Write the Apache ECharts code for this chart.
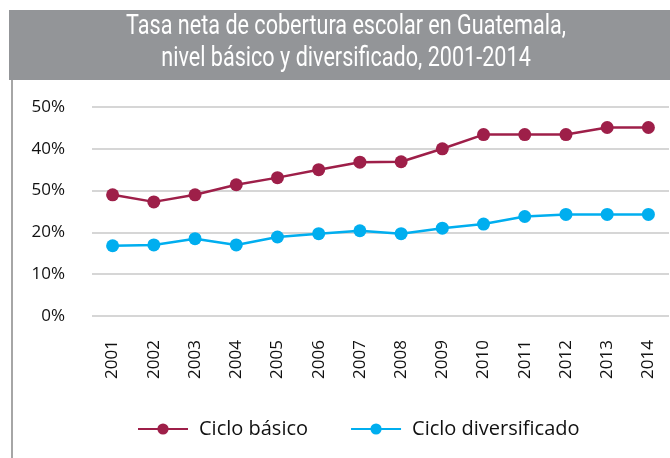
<!DOCTYPE html>
<html>
<head>
<meta charset="utf-8">
<script src="https://cdn.jsdelivr.net/npm/echarts@6/dist/echarts.min.js"></script>
<style>
  html, body { margin: 0; padding: 0; background: #fff; }
  #chart { width: 670px; height: 458px; }
</style>
</head>
<body>
<div id="chart"></div>
<script>
var chartDom = document.getElementById('chart');
var chart = echarts.init(chartDom);

// años y tasas (%)
var years = ['2001', '2002', '2003', '2004', '2005', '2006', '2007',
             '2008', '2009', '2010', '2011', '2012', '2013', '2014'];
var cicloBasico = [29.0, 27.3, 29.0, 31.4, 33.1, 35.0, 36.8,
                   36.9, 40.0, 43.4, 43.4, 43.4, 45.1, 45.1];
var cicloDiversificado = [16.8, 17.0, 18.5, 17.0, 18.9, 19.7, 20.4,
                          19.7, 21.0, 22.0, 23.8, 24.3, 24.3, 24.3];
// etiquetas del eje tal como aparecen en el original
var yTickLabels = ['0%', '10%', '20%', '50%', '40%', '50%'];
var titleText = 'Tasa neta de cobertura escolar en Guatemala,\nnivel básico y diversificado, 2001-2014';

var textFont = "'Open Sans', 'Liberation Sans', sans-serif";

var option = {
    backgroundColor: '#fff',
    animation: false,
    graphic: [
        {
            type: 'rect',
            z: -1,
            shape: { x: 9, y: 10, width: 661, height: 70 },
            style: { fill: '#939598' }
        },
        {
            // título estrechado horizontalmente para imitar la fuente condensada
            type: 'text',
            x: 346,
            y: 11,
            scaleX: 0.8,
            style: {
                text: titleText,
                fill: '#fff',
                font: '27px Roboto',
                textAlign: 'center',
                textVerticalAlign: 'top',
                lineHeight: 32
            }
        },
        {
            type: 'line',
            shape: { x1: 12, y1: 80, x2: 12, y2: 458 },
            style: { stroke: '#a6a6a6', lineWidth: 2 }
        }
    ],
    color: ['#9e1f49', '#00aeef'],
    legend: {
        top: 414,
        left: 132,
        itemWidth: 50,
        itemHeight: 14,
        itemGap: 42,
        textStyle: {
            fontSize: 20,
            color: '#111',
            fontFamily: textFont,
            padding: [0, 0, 0, 6]
        },
        data: ['Ciclo básico', 'Ciclo diversificado']
    },
    grid: {
        left: 92,
        right: 1,
        top: 107,
        bottom: 142
    },
    xAxis: {
        type: 'category',
        data: years,
        boundaryGap: true,
        axisLine: { show: false },
        axisTick: { show: false },
        axisLabel: {
            rotate: 90,
            margin: 24,
            fontSize: 17,
            color: '#111',
            fontFamily: textFont
        }
    },
    yAxis: {
        type: 'value',
        min: 0,
        max: 50,
        interval: 10,
        axisLine: { show: false },
        axisTick: { show: false },
        splitLine: { lineStyle: { color: '#c8c8c8', width: 1.5 } },
        axisLabel: {
            margin: 27,
            fontSize: 17,
            color: '#111',
            fontFamily: textFont,
            formatter: function (v) {
                return yTickLabels[Math.round(v / 10)];
            }
        }
    },
    series: [
        {
            name: 'Ciclo básico',
            type: 'line',
            data: cicloBasico,
            symbol: 'circle',
            symbolSize: 13,
            lineStyle: { width: 2.5 }
        },
        {
            name: 'Ciclo diversificado',
            type: 'line',
            data: cicloDiversificado,
            symbol: 'circle',
            symbolSize: 13,
            lineStyle: { width: 2.5 }
        }
    ]
};

chart.setOption(option);
</script>
</body>
</html>
